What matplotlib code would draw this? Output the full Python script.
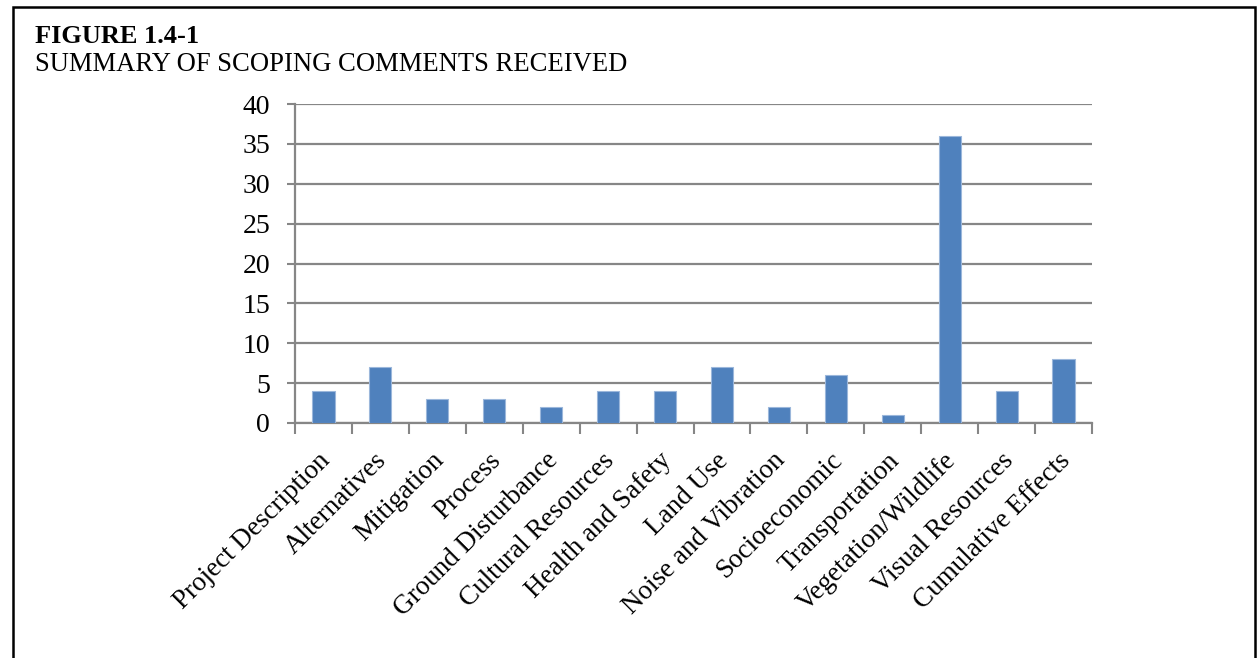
import matplotlib
matplotlib.use("Agg")
import matplotlib.pyplot as plt
from matplotlib.patches import Rectangle
from matplotlib.transforms import ScaledTranslation
import numpy as np

categories = ["Project Description", "Alternatives", "Mitigation", "Process",
              "Ground Disturbance", "Cultural Resources", "Health and Safety",
              "Land Use", "Noise and Vibration", "Socioeconomic", "Transportation",
              "Vegetation/Wildlife", "Visual Resources", "Cumulative Effects"]
values = [4, 7, 3, 3, 2, 4, 4, 7, 2, 6, 1, 36, 4, 8]
yticks = [0, 5, 10, 15, 20, 25, 30, 35, 40]

plt.rcParams['font.family'] = ['Liberation Serif', 'DejaVu Serif']

W, H = 1257, 658
fig = plt.figure(figsize=(W/100, H/100), dpi=100)
fig.patch.set_facecolor('white')

# outer border
fig.add_artist(Rectangle((13/W, -0.01), (1255-13)/W, 1 - 7/H + 0.01,
                         transform=fig.transFigure, fill=False,
                         edgecolor='black', linewidth=1.8))

fig.text(35/W, 1 - 43/H, "FIGURE 1.4-1", fontsize=19, fontweight='bold',
         ha='left', va='baseline')
fig.text(35/W, 1 - 71/H, "SUMMARY OF SCOPING COMMENTS RECEIVED", fontsize=19.2,
         ha='left', va='baseline')

ax = fig.add_axes([295/W, 1 - 423/H, (1092-295)/W, (423-104)/H])
x = np.arange(len(categories))
grid_c = '#868686'
ax.bar(x, values, width=0.39, color='#4F81BD', edgecolor='#9BB7DB',
       linewidth=0.8, zorder=3)
ax.set_xlim(-0.5, len(categories) - 0.5)
ax.set_ylim(0, 40)
ax.set_yticks(yticks)
ax.set_yticklabels([str(v) for v in yticks], fontsize=20)
ax.yaxis.grid(True, color=grid_c, linewidth=1.6, zorder=0)
ax.set_axisbelow(True)

ax.set_xticks(np.arange(len(categories) + 1) - 0.5)
ax.set_xticklabels([])
ax.set_xticks(x, minor=True)
ax.set_xticklabels(categories, minor=True, rotation=45, ha='right',
                   rotation_mode='anchor', fontsize=19.5)
ax.tick_params(axis='x', which='minor', length=0, pad=18)
ax.tick_params(axis='x', which='major', length=8, color=grid_c, width=1.5,
               direction='out')
ax.tick_params(axis='y', length=6, color=grid_c, width=1.5, pad=12)
shift = ScaledTranslation(-6/100, 0, fig.dpi_scale_trans)
for lbl in ax.get_xticklabels(minor=True):
    lbl.set_transform(lbl.get_transform() + shift)

for s in ['top', 'right']:
    ax.spines[s].set_visible(False)
for s in ['left', 'bottom']:
    ax.spines[s].set_color(grid_c)
    ax.spines[s].set_linewidth(1.6)

fig.savefig("out.png", dpi=100, facecolor='white')
